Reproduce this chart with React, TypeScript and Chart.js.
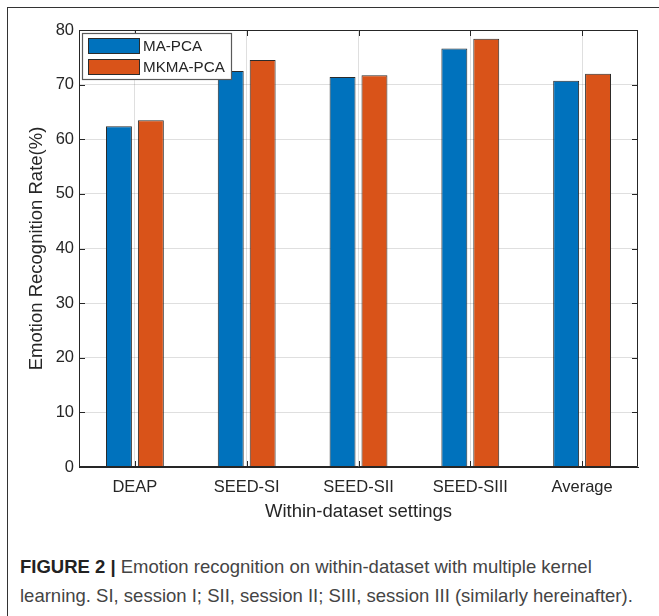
import React, { useEffect, useRef } from 'react';
import { Chart, registerables } from 'chart.js';

Chart.register(...registerables);

const categories = ['DEAP', 'SEED-SI', 'SEED-SII', 'SEED-SIII', 'Average'];
const seriesNames = ['MA-PCA', 'MKMA-PCA'];
const maPca = [62.4, 72.5, 71.4, 76.6, 70.7];
const mkmaPca = [63.5, 74.5, 71.7, 78.4, 72.0];
const yMin = 0;
const yMax = 80;
const yStep = 10;

const FONT = "'Liberation Sans', Arial, Helvetica, sans-serif";
const AXIS = '#262626';
const GRID = 'rgba(38,38,38,0.15)';
const BLUE = '#0072BD';
const ORANGE = '#D95319';
const EDGE = '#2b2b2b';

const boxPlugin = {
  id: 'matlabBox',
  afterDatasetsDraw(chart: any) {
    const { ctx, chartArea: a, scales } = chart;
    const tl = 6;
    ctx.save();
    ctx.strokeStyle = AXIS;
    ctx.lineWidth = 1;
    ctx.beginPath();
    // box
    ctx.moveTo(a.left + 0.5, a.top + 0.5);
    ctx.lineTo(a.right - 0.5, a.top + 0.5);
    ctx.lineTo(a.right - 0.5, a.bottom - 0.5);
    ctx.lineTo(a.left + 0.5, a.bottom - 0.5);
    ctx.closePath();
    // y ticks inward on both sides
    scales.y.ticks.forEach((t: any) => {
      const y = Math.round(scales.y.getPixelForValue(t.value)) + 0.5;
      ctx.moveTo(a.left, y);
      ctx.lineTo(a.left + tl, y);
      ctx.moveTo(a.right, y);
      ctx.lineTo(a.right - tl, y);
    });
    // x ticks inward on top and bottom
    scales.x.ticks.forEach((_t: any, i: number) => {
      const x = Math.round(scales.x.getPixelForTick(i)) + 0.5;
      ctx.moveTo(x, a.bottom);
      ctx.lineTo(x, a.bottom - tl);
      ctx.moveTo(x, a.top);
      ctx.lineTo(x, a.top + tl);
    });
    ctx.stroke();
    ctx.restore();
  },
};

const legendPlugin = {
  id: 'insideLegend',
  afterDraw(chart: any) {
    const { ctx, chartArea: a } = chart;
    const x0 = a.left + 3;
    const y0 = a.top + 3;
    const w = 150;
    const h = 47;
    ctx.save();
    ctx.fillStyle = '#ffffff';
    ctx.fillRect(x0, y0, w, h);
    ctx.strokeStyle = '#5a5a5a';
    ctx.lineWidth = 1.2;
    ctx.strokeRect(x0 + 0.5, y0 + 0.5, w - 1, h - 1);
    ctx.font = `15.2px ${FONT}`;
    ctx.textBaseline = 'middle';
    chart.data.datasets.forEach((ds: any, i: number) => {
      const sy = y0 + 5 + i * 21;
      ctx.fillStyle = ds.backgroundColor;
      ctx.fillRect(x0 + 6, sy, 52, 16);
      ctx.strokeStyle = EDGE;
      ctx.lineWidth = 1;
      ctx.strokeRect(x0 + 6.5, sy + 0.5, 51, 15);
      ctx.fillStyle = AXIS;
      ctx.fillText(ds.label, x0 + 61, sy + 8.5);
    });
    ctx.restore();
  },
};

export default function App() {
  const ref = useRef<HTMLCanvasElement | null>(null);

  useEffect(() => {
    if (!ref.current) return;
    const chart = new Chart(ref.current, {
      type: 'bar',
      data: {
        labels: categories,
        datasets: [
          {
            label: seriesNames[0],
            data: maPca,
            backgroundColor: BLUE,
            borderColor: EDGE,
            borderWidth: 1,
            categoryPercentage: 0.571,
            barPercentage: 0.8125,
          },
          {
            label: seriesNames[1],
            data: mkmaPca,
            backgroundColor: ORANGE,
            borderColor: EDGE,
            borderWidth: 1,
            categoryPercentage: 0.571,
            barPercentage: 0.8125,
          },
        ],
      },
      options: {
        animation: false,
        responsive: false,
        devicePixelRatio: 1,
        layout: { padding: { left: 0, top: 30, right: 21, bottom: 0 } },
        plugins: {
          legend: { display: false },
          tooltip: { enabled: false },
        },
        scales: {
          x: {
            grid: { color: GRID, offset: false, drawTicks: false },
            border: { display: true, color: AXIS, width: 1 },
            ticks: { color: AXIS, font: { family: FONT, size: 16.5 }, padding: 11 },
            title: {
              display: true,
              text: 'Within-dataset settings',
              color: AXIS,
              font: { family: FONT, size: 18.5 },
              padding: { top: 0, bottom: 17 },
            },
            afterFit(scale: any) {
              scale.height = 73;
            },
          },
          y: {
            min: yMin,
            max: yMax,
            grid: { color: GRID, drawTicks: false },
            border: { display: true, color: AXIS, width: 1 },
            ticks: {
              stepSize: yStep,
              color: AXIS,
              font: { family: FONT, size: 16.5 },
              padding: 5,
            },
            title: {
              display: true,
              text: 'Emotion Recognition Rate(%)',
              color: AXIS,
              font: { family: FONT, size: 18.5 },
              padding: { top: 26, bottom: 0 },
            },
            afterFit(scale: any) {
              scale.width = 79;
            },
          },
        },
      },
      plugins: [boxPlugin, legendPlugin],
    });
    return () => chart.destroy();
  }, []);

  return (
    <div style={{ position: 'absolute', left: 0, top: 0, width: 659, height: 616, background: '#fff', overflow: 'hidden' }}>
      <div
        style={{
          position: 'absolute',
          left: 7,
          top: 7,
          width: 700,
          height: 700,
          borderTop: '1.5px solid #333',
          borderLeft: '1.5px solid #333',
        }}
      />
      <canvas ref={ref} width={659} height={540} style={{ position: 'absolute', left: 0, top: 0, display: 'block' }} />
      <div
        style={{
          position: 'absolute',
          left: 20,
          top: 552,
          fontFamily: FONT,
          fontSize: 18.5,
          lineHeight: '29px',
          color: '#444',
          whiteSpace: 'nowrap',
        }}
      >
        <span style={{ fontWeight: 'bold', color: '#222' }}>FIGURE 2 |</span> Emotion recognition on within-dataset with multiple kernel
        <br />
        learning. SI, session I; SII, session II; SIII, session III (similarly hereinafter).
      </div>
    </div>
  );
}
